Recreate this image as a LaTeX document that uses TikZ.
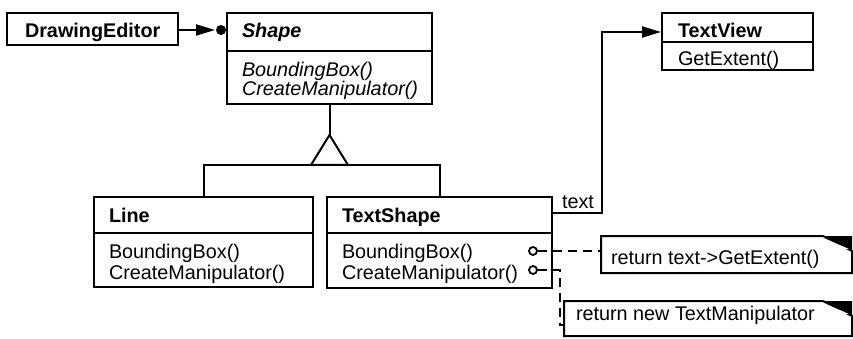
\documentclass[tikz,border=0pt]{standalone}
\usepackage{fontspec}
\setmainfont{Liberation Sans}
\usetikzlibrary{arrows.meta}
\newcommand{\fsz}{\fontsize{19.8}{20}\selectfont}
\begin{document}
\begin{tikzpicture}[x=1pt,y=-1pt,line width=2pt,
  box/.style={draw, rectangle, inner sep=0pt, fill=white},
  lbl/.style={anchor=base west, inner sep=0pt, font=\fsz},
  hdr/.style={anchor=base west, inner sep=0pt, font=\fsz\bfseries},
  ital/.style={anchor=base west, inner sep=0pt, font=\fsz\itshape},
  hdrital/.style={anchor=base west, inner sep=0pt, font=\fsz\bfseries\itshape},
  port/.style={circle, draw, fill=white, inner sep=0pt, minimum size=8pt, line width=1.8pt},
  notelink/.style={dash pattern=on 9pt off 6pt},
  assoc/.style={-{Triangle[length=19pt,width=11pt]}},
  notebox/.style={rectangle, inner sep=0pt}]
\useasboundingbox (0,0) rectangle (853,339);

% classes
\node[box, minimum width=171pt, minimum height=32pt] (de) at (92.5,29) {};
\node[hdr] (detxt) at (24,38) {DrawingEditor};

\node[box, minimum width=205pt, minimum height=91pt] (shape) at (329.5,58.5) {};
\draw (shape.west |- 0,51) -- (shape.east |- 0,51);
\node[hdrital] (shapetxt) at (241,38) {Shape};
\node[ital] (shapem1) at (241,77) {BoundingBox()};
\node[ital] (shapem2) at (241,96) {CreateManipulator()};

\node[box, minimum width=151pt, minimum height=57pt] (tv) at (737.5,41.5) {};
\draw (tv.west |- 0,42) -- (tv.east |- 0,42);
\node[hdr] (tvtxt) at (677,38) {TextView};
\node[lbl] (tvm1) at (677,66) {GetExtent()};

\node[box, minimum width=219pt, minimum height=90pt] (line) at (203.5,242) {};
\draw (line.west |- 0,233) -- (line.east |- 0,233);
\node[hdr] (linetxt) at (108,222) {Line};
\node[lbl] (linem1) at (108,258) {BoundingBox()};
\node[lbl] (linem2) at (108,279) {CreateManipulator()};

\node[box, minimum width=225pt, minimum height=91pt] (ts) at (439.5,242.5) {};
\draw (ts.west |- 0,233) -- (ts.east |- 0,233);
\node[hdr] (tstxt) at (341,222) {TextShape};
\node[lbl] (tsm1) at (341,258) {BoundingBox()};
\node[lbl] (tsm2) at (341,279) {CreateManipulator()};

% DrawingEditor -> Shape
\node[circle, fill, inner sep=0pt, minimum size=10pt] (dot) at (221,30) {};
\draw[assoc] (de.east |- dot) -- (dot.west);

% inheritance
\coordinate (apex) at (329.5,135);
\coordinate (bar) at (329.5,165);
\draw (shape.south) -- (apex);
\draw[line join=miter] (apex) -- ++(-18.5,30) -- ++(37,0) -- cycle;
\draw (line.north) |- (bar) -| (ts.north);

% text association
\coordinate (tA) at (602,213);
\coordinate (tB) at (602,32);
\draw[assoc] (ts.east |- tA) -- (tA) -- (tB) -- (tv.west |- tB);
\node[lbl] (textlbl) at (561,208) {text};

% notes
\node[notebox, minimum width=249pt, minimum height=35pt] (n1) at (726.5,254.5) {};
\node[notebox, minimum width=286pt, minimum height=33pt] (n2) at (708,318.5) {};
\foreach \n in {n1,n2}{
  \draw[fill=white] (\n.north west) -- ([xshift=-29pt]\n.north east) -- ([yshift=-15pt]\n.north east) -- (\n.south east) -- (\n.south west) -- cycle;
  \fill[black] ([xshift=-29pt]\n.north east) -- (\n.north east) -- ([yshift=-15pt]\n.north east) -- cycle;
  \fill[white] ([xshift=-24pt,yshift=-4pt]\n.north east) -- ([xshift=-3pt,yshift=-13pt]\n.north east) -- ([xshift=-20pt,yshift=-12pt]\n.north east) -- cycle;
}
\node[lbl] (n1txt) at (610,264) {return text->GetExtent()};
\node[lbl] (n2txt) at (575,320) {return new TextManipulator};

% ports and note links
\node[port] (c1) at (533,251) {};
\node[port] (c2) at (533,270) {};
\draw (c1.east) -- ++(9,0);
\draw (c2.east) -- ++(9,0);
\draw[notelink] (ts.east |- c1) -- (n1.west |- c1);
\coordinate (k1) at (560,270);
\coordinate (k2) at (560,325);
\draw[notelink] (ts.east |- c2) -- (k1) -- (k2) -- (n2.west |- k2);
\end{tikzpicture}
\end{document}
